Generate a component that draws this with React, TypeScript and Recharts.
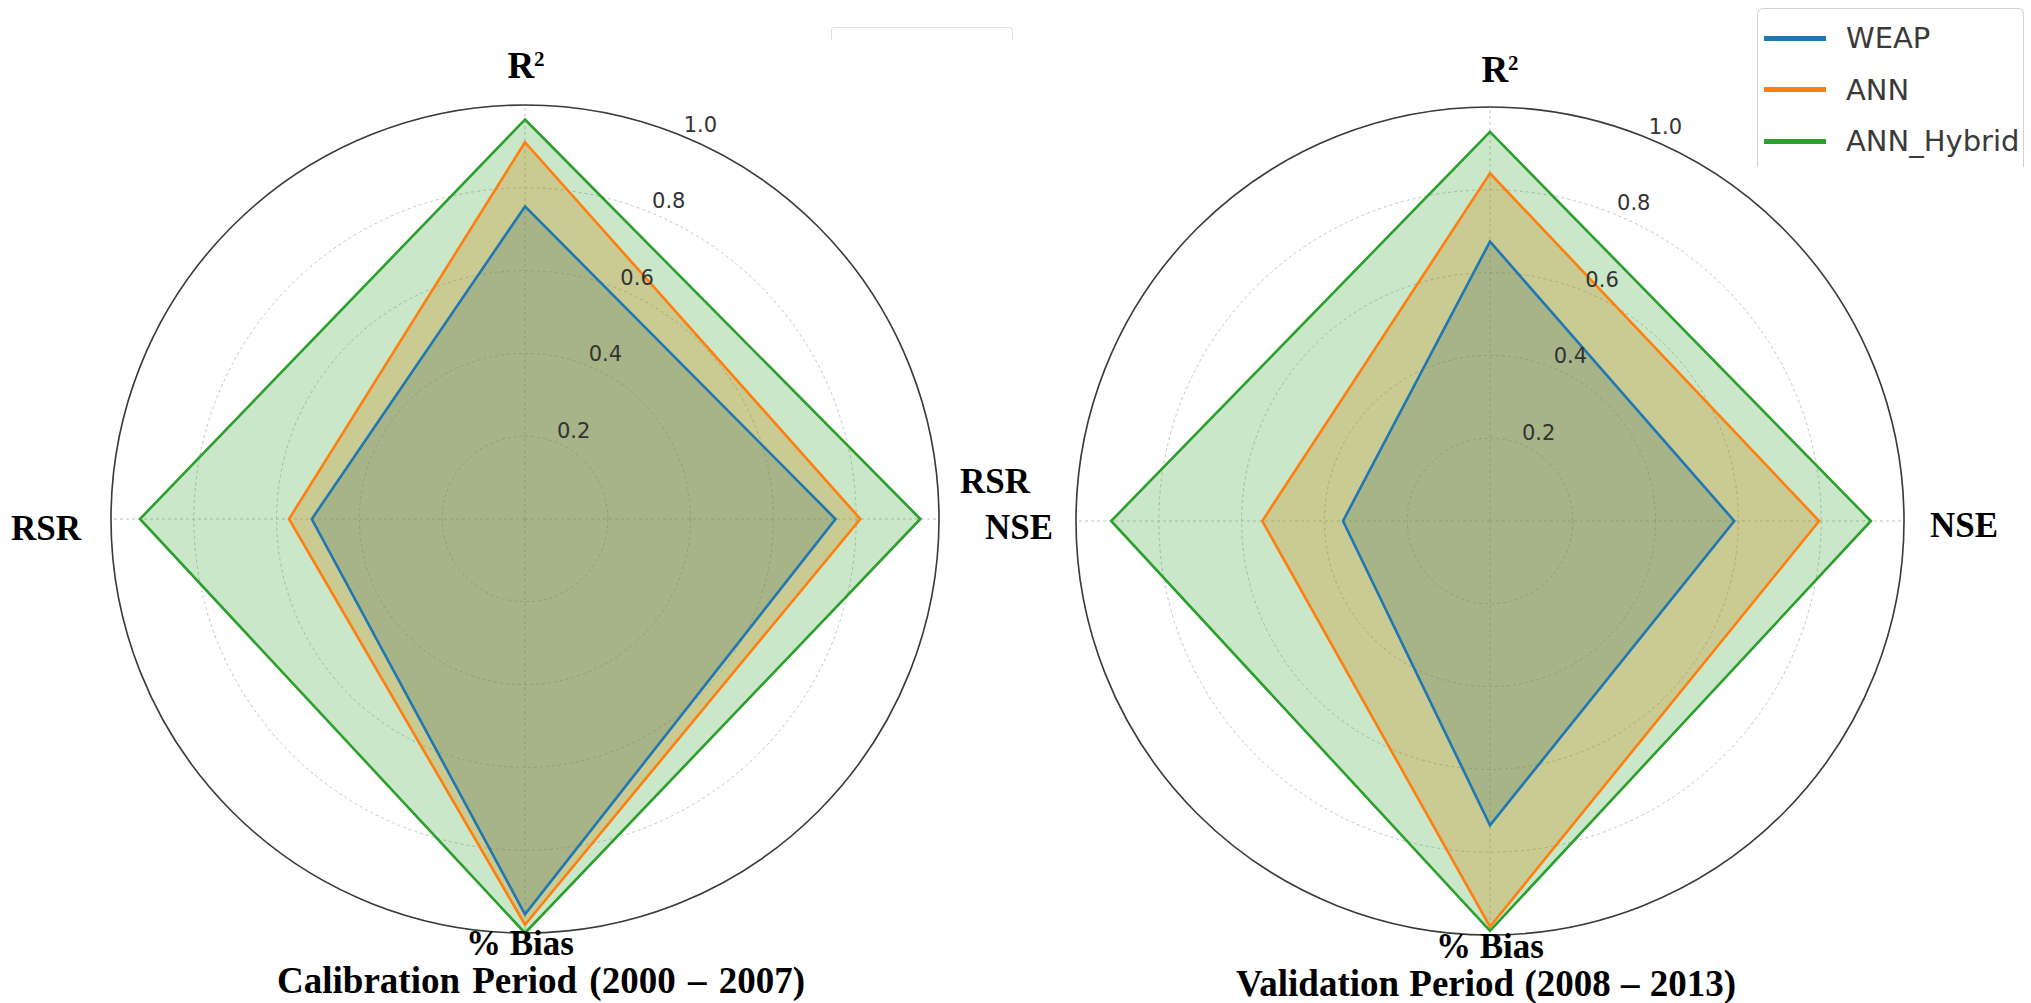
import { RadarChart, Radar, PolarGrid, PolarAngleAxis, PolarRadiusAxis } from "recharts";

// axes, clockwise from top
const metrics = ["R²", "NSE", "% Bias", "RSR"];

// Calibration Period (2000 – 2007)
const calWeap = [0.755, 0.75, 0.955, 0.515];
const calAnn = [0.91, 0.81, 0.98, 0.57];
const calHybrid = [0.965, 0.955, 1.0, 0.93];

// Validation Period (2008 – 2013)
const valWeap = [0.675, 0.59, 0.735, 0.355];
const valAnn = [0.84, 0.795, 0.98, 0.55];
const valHybrid = [0.94, 0.92, 0.99, 0.915];

const radialTicks = [0.2, 0.4, 0.6, 0.8, 1.0];

const series = [
  { key: "weap", name: "WEAP", color: "#1f77b4", opacity: 0.3 },
  { key: "ann", name: "ANN", color: "#ff7f0e", opacity: 0.3 },
  { key: "hybrid", name: "ANN_Hybrid", color: "#2ca02c", opacity: 0.25 },
];

const build = (w: number[], a: number[], h: number[]) =>
  metrics.map((m, i) => ({ metric: m, weap: w[i], ann: a[i], hybrid: h[i] }));

const calData = build(calWeap, calAnn, calHybrid);
const valData = build(valWeap, valAnn, valHybrid);

const SERIF = "'Liberation Serif', 'Times New Roman', serif";
const SANS = "'DejaVu Sans', sans-serif";
const R = 414;

type Place = { dx: number; dy: number; anchor: "start" | "middle" | "end" };

const leftPlaces: Record<string, Place> = {
  "R²": { dx: 1, dy: -19, anchor: "middle" },
  NSE: { dx: 38, dy: 20, anchor: "start" },
  "% Bias": { dx: -5, dy: 14, anchor: "middle" },
  RSR: { dx: -22, dy: 21, anchor: "end" },
};

const rightPlaces: Record<string, Place> = {
  "R²": { dx: 10, dy: -17, anchor: "middle" },
  NSE: { dx: 18, dy: 16, anchor: "start" },
  "% Bias": { dx: 0, dy: 15, anchor: "middle" },
  RSR: { dx: -38, dy: -28, anchor: "end" },
};

const angleTick = (places: Record<string, Place>) => (props: any) => {
  const { x, y, payload } = props;
  const p = places[payload.value] || { dx: 0, dy: 0, anchor: "middle" };
  if (payload.value === "R²") {
    return (
      <text x={x + p.dx} y={y + p.dy} textAnchor={p.anchor} fontFamily={SERIF} fontWeight="bold" fontSize={37} fill="#000">
        R<tspan fontSize={21} dy={-12}>2</tspan>
      </text>
    );
  }
  return (
    <text x={x + p.dx} y={y + p.dy} textAnchor={p.anchor} fontFamily={SERIF} fontWeight="bold" fontSize={35} fill="#000">
      {payload.value}
    </text>
  );
};

const radiusTick = (props: any) => {
  const { x, y, payload } = props;
  const v = +payload.value;
  if (!radialTicks.some(t => Math.abs(t - v) < 1e-6)) return <g />;
  return (
    <text x={x + 17} y={y - 12} textAnchor="middle" dominantBaseline="central" fontFamily={SANS} fontSize={21} fill="#333">
      {v.toFixed(1)}
    </text>
  );
};

function Spider({ data, width, cx, cy, places }: { data: any[]; width: number; cx: number; cy: number; places: Record<string, Place> }) {
  return (
    <RadarChart width={width} height={1003} data={data} cx={cx} cy={cy} outerRadius={R} margin={{ top: 0, right: 0, bottom: 0, left: 0 }}>
      <PolarGrid gridType="circle" stroke="#c4c4c4" strokeDasharray="3 3" strokeWidth={1} polarRadius={radialTicks.map(t => t * R)} />
      <PolarRadiusAxis angle={67.5} domain={[0, 1]} ticks={radialTicks as any} tickCount={6} axisLine={false} tickLine={false} tick={radiusTick} />
      {series.map(s => (
        <Radar
          key={s.key + "-fill"}
          name={s.name}
          dataKey={s.key}
          stroke="none"
          fill={s.color}
          fillOpacity={s.opacity}
          dot={false}
          isAnimationActive={false}
        />
      ))}
      {series.map(s => (
        <Radar
          key={s.key + "-line"}
          name={s.name}
          dataKey={s.key}
          stroke={s.color}
          strokeWidth={2.6}
          fill="none"
          fillOpacity={0}
          dot={false}
          isAnimationActive={false}
        />
      ))}
      <PolarAngleAxis
        dataKey="metric"
        axisLineType="circle"
        axisLine={{ stroke: "#3a3a3a", strokeWidth: 1.6 }}
        tickLine={false}
        tick={angleTick(places)}
      />
    </RadarChart>
  );
}

export default function App() {
  return (
    <div style={{ position: "absolute", left: 0, top: 0, width: 2031, height: 1003, background: "#fff", overflow: "hidden" }}>
      <div style={{ position: "absolute", left: 0, top: 0 }}>
        <Spider data={calData} width={1100} cx={525} cy={519} places={leftPlaces} />
      </div>
      <div style={{ position: "absolute", left: 900, top: 0 }}>
        <Spider data={valData} width={1131} cx={590} cy={521} places={rightPlaces} />
      </div>

      {/* faint leftover legend frame at top middle */}
      <div style={{ position: "absolute", left: 831, top: 27, width: 180, height: 12, border: "1px solid #e2e2e2", borderBottom: "none", borderRadius: "4px 4px 0 0" }} />

      {/* legend */}
      <div style={{ position: "absolute", left: 1757, top: 8, width: 265, height: 158, border: "1px solid #d0d0d0", borderBottom: "none", borderRadius: "6px 6px 0 0", background: "#fff" }}>
        {series.map((s, i) => (
          <div key={s.key} style={{ position: "absolute", left: 6, top: 12 + i * 51.5, height: 34, display: "flex", alignItems: "center" }}>
            <div style={{ width: 62, height: 5, background: s.color }} />
            <span style={{ marginLeft: 20, fontFamily: SANS, fontSize: 29, color: "#3a3a3a", lineHeight: "34px" }}>{s.name}</span>
          </div>
        ))}
      </div>

      {/* period titles */}
      <div style={{ position: "absolute", left: 36, width: 1010, top: 968, textAlign: "center", fontFamily: SERIF, fontWeight: "bold", fontSize: 37, lineHeight: "26px", color: "#000", wordSpacing: 3 }}>
        Calibration Period (2000 – 2007)
      </div>
      <div style={{ position: "absolute", left: 992, width: 988, top: 971, textAlign: "center", fontFamily: SERIF, fontWeight: "bold", fontSize: 37, lineHeight: "26px", color: "#000", wordSpacing: 1 }}>
        Validation Period (2008 – 2013)
      </div>
    </div>
  );
}
